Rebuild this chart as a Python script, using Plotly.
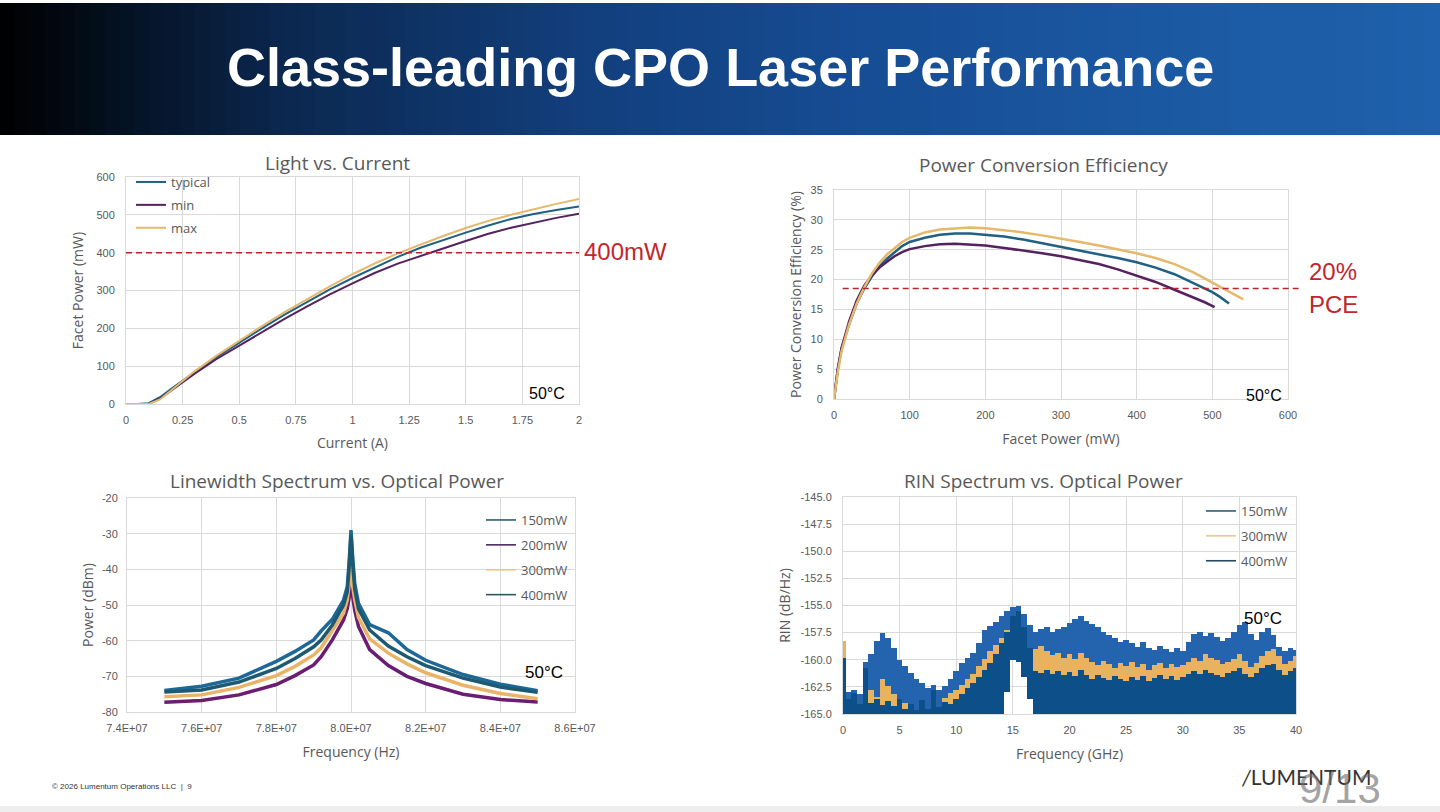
import plotly.graph_objects as go

W, H = 1440, 812

# ---------------- data ----------------
# Light vs. Current (50 C)
lc_current = [0, 0.05, 0.1, 0.15, 0.2, 0.25, 0.3, 0.4, 0.5, 0.6, 0.7, 0.8, 0.9, 1.0,
              1.1, 1.2, 1.3, 1.4, 1.5, 1.6, 1.7, 1.8, 1.9, 2.0]
lc_typical = [0, 0, 2, 18, 40, 62, 83, 124, 163, 200, 236, 270, 303, 333,
              362, 389, 413, 434, 453, 472, 489, 502, 513, 522]
lc_min = [0, 0, 0, 14, 36, 58, 79, 119, 155, 190, 225, 258, 290, 319,
          347, 371, 390, 411, 431, 450, 466, 480, 492, 503]
lc_max = [0, 0, 0, 12, 37, 62, 85, 128, 168, 206, 243, 278, 311, 343,
          372, 398, 422, 444, 465, 484, 500, 515, 529, 542]
lc_target = 400

# Power conversion efficiency
pce_typ_p = [0, 5, 10, 20, 30, 40, 50, 60, 70, 80, 90, 100, 120, 140, 160, 180, 200,
             225, 250, 275, 300, 325, 350, 375, 400, 425, 450, 475, 500, 510, 522]
pce_typ = [0, 5, 8.5, 12.5, 16, 18.5, 20.5, 22.2, 23.5, 24.6, 25.6, 26.3, 27.0, 27.5, 27.7, 27.7, 27.5,
           27.2, 26.7, 26.1, 25.5, 24.9, 24.3, 23.6, 22.9, 22.0, 20.9, 19.4, 17.9, 17.1, 16.0]
pce_min_p = [0, 5, 10, 20, 30, 40, 50, 60, 70, 80, 90, 100, 120, 140, 160, 180, 200,
             225, 250, 275, 300, 325, 350, 375, 400, 425, 450, 475, 490, 503]
pce_min = [0, 5, 8.5, 13, 16.5, 19, 20.7, 22, 23, 23.9, 24.6, 25.1, 25.6, 25.9, 26.0, 25.9, 25.7,
           25.3, 24.9, 24.4, 23.9, 23.3, 22.6, 21.7, 20.6, 19.6, 18.3, 17.0, 16.2, 15.4]
pce_max_p = [0, 5, 10, 20, 30, 40, 50, 60, 70, 80, 90, 100, 120, 140, 160, 180, 200,
             225, 250, 275, 300, 325, 350, 375, 400, 425, 450, 475, 500, 520, 541]
pce_max = [0, 4.5, 8, 12.5, 16, 18.7, 21, 22.8, 24.2, 25.3, 26.3, 27.0, 27.9, 28.4, 28.6, 28.7, 28.6,
           28.3, 27.9, 27.4, 26.9, 26.3, 25.7, 25.1, 24.4, 23.6, 22.6, 21.2, 19.5, 18.2, 16.7]
pce_target = 18.5
pce_target_span = [11.5, 614]  # mW, line runs past the axis end

# Linewidth spectrum
lw_freq = [7.5e7, 7.6e7, 7.7e7, 7.8e7, 7.85e7, 7.9e7, 7.92e7, 7.95e7, 7.98e7, 7.99e7, 7.995e7, 8.0e7,
           8.005e7, 8.01e7, 8.02e7, 8.05e7, 8.1e7, 8.15e7, 8.2e7, 8.3e7, 8.4e7, 8.5e7]
lw_150 = [-74.0, -72.8, -70.5, -65.8, -63.0, -59.8, -57.3, -54.0, -48.6, -44.9, -38.0, -29.0,
          -37.5, -44.0, -49.5, -55.5, -57.8, -62.5, -65.5, -69.5, -72.2, -74.0]
lw_200 = [-77.3, -76.8, -75.2, -72.3, -69.8, -66.8, -64.5, -59.8, -54.2, -51.0, -48.0, -43.0,
          -48.0, -51.5, -56.0, -62.5, -67.0, -70.0, -72.0, -75.0, -76.5, -77.2]
lw_300 = [-75.7, -75.2, -73.1, -69.8, -67.2, -64.0, -62.0, -57.0, -52.3, -48.6, -45.0, -40.0,
          -45.0, -48.5, -53.5, -59.5, -63.5, -66.5, -69.0, -72.5, -74.8, -76.3]
lw_400 = [-74.4, -73.8, -71.6, -67.8, -65.0, -61.7, -59.8, -55.6, -50.0, -46.3, -39.5, -30.5,
          -39.0, -45.5, -51.0, -57.0, -61.5, -64.5, -67.0, -70.5, -73.0, -74.5]
lw_xticks = [7.4e7, 7.6e7, 7.8e7, 8.0e7, 8.2e7, 8.4e7, 8.6e7]
lw_xticktext = ['7.4E+07', '7.6E+07', '7.8E+07', '8.0E+07', '8.2E+07', '8.4E+07', '8.6E+07']
lw_yticks = [-80, -70, -60, -50, -40, -30, -20]
lw_yticktext = ['-80', '-70', '-60', '-50', '-40', '-30', '-20']

# RIN spectrum, upper envelope every 0.5 GHz (0..40 GHz)
rin_freq = [i * 0.5 for i in range(81)]
rin_150 = [-162.5, -163.0, -162.8, -163.2, -160.2, -159.5, -158.3, -157.5, -158.0, -158.9,
           -160.0, -160.6, -161.2, -161.8, -162.1, -162.6, -162.3, -162.8, -162.4, -161.8,
           -161.0, -160.3, -159.8, -159.4, -158.5, -157.3, -156.9, -156.5, -156.0, -155.5,
           -155.1, -155.0, -155.8, -156.8, -157.4, -157.2, -157.0, -157.4, -157.2, -157.0,
           -156.6, -156.2, -156.0, -156.4, -156.7, -157.0, -157.4, -157.7, -158.0, -158.4,
           -158.2, -158.5, -158.8, -158.4, -158.9, -159.1, -158.7, -159.0, -159.3, -158.9,
           -159.2, -158.4, -157.6, -157.4, -157.8, -157.5, -157.9, -158.3, -158.0, -157.4,
           -156.8, -156.5, -157.6, -158.2, -157.4, -157.1, -157.7, -158.8, -159.2, -158.9,
           -159.1]
rin_300 = [-158.3, -163.6, -164.1, -164.3, -162.2, -162.8, -163.4, -161.8, -162.4, -163.2,
           -163.7, -164.0, -164.3, -164.6, -164.4, -164.8, -164.6, -164.8, -163.5, -163.1,
           -162.8, -162.3, -161.8, -161.3, -160.6, -159.9, -159.2, -158.6, -158.0, -157.3,
           -156.9, -157.4, -158.4, -159.3, -159.0, -158.7, -159.2, -159.6, -159.4, -159.8,
           -159.5, -159.9, -159.4, -159.8, -160.2, -160.5, -160.1, -160.4, -160.8, -160.3,
           -160.6, -160.2, -160.7, -160.4, -160.9, -160.5, -160.3, -160.8, -160.4, -160.7,
           -160.5, -160.2, -159.8, -160.1, -159.5, -159.8, -160.0, -160.4, -160.2, -159.9,
           -159.5, -160.1, -160.7, -160.3, -159.7, -159.2, -159.0, -159.7, -160.4, -160.1,
           -159.7]
rin_400 = [-159.8, -163.6, -163.1, -164.1, -160.8, -164.0, -163.6, -164.2, -163.8, -164.3,
           -163.6, -164.5, -164.1, -164.6, -163.7, -164.5, -162.8, -164.4, -163.9, -164.1,
           -163.6, -163.2, -162.6, -162.1, -161.6, -160.9, -160.3, -159.5, -158.5, -157.4,
           -156.0, -155.5, -157.0, -158.9, -161.0, -161.2, -160.9, -161.3, -161.0, -161.4,
           -161.1, -161.5, -160.9, -161.4, -161.8, -161.4, -161.7, -161.9, -161.5, -161.8,
           -162.0, -161.6, -161.9, -161.5, -162.0, -161.7, -161.4, -161.8, -161.5, -161.9,
           -161.6, -161.3, -161.0, -161.3, -160.9, -161.2, -161.4, -161.6, -161.2, -161.0,
           -160.8, -161.3, -161.6, -161.2, -160.8, -160.5, -160.4, -160.9, -161.4, -161.0,
           -160.8]
# lower edge of the traces (open gap under the 15 GHz peak)
rin_floor = [-165.0] * 29 + [-163.0, -160.0, -160.2, -161.6, -163.6] + [-165.0] * 47
rin_yticks = [-165, -162.5, -160, -157.5, -155, -152.5, -150, -147.5, -145]
rin_yticktext = ['-165.0', '-162.5', '-160.0', '-157.5', '-155.0', '-152.5', '-150.0', '-147.5', '-145.0']

# ---------------- styling ----------------
GRID = '#d9d9d9'
GREY = '#595959'
RED = '#c0272d'
TICK_FONT = dict(family='Liberation Sans, Arial', size=11, color=GREY)
AX_TITLE_FONT = dict(family='Open Sans, Arial', size=14, color=GREY)
CHART_TITLE_FONT = dict(family='Open Sans, Arial', size=19, color=GREY)
LEG_FONT = dict(family='Open Sans, Arial', size=13, color=GREY)

C_TYP, C_MIN, C_MAX = '#1f6083', '#55215f', '#e6b86c'


def px(x):
    return x / W


def py(y):
    return 1 - y / H


def axis(domain, **kw):
    d = dict(domain=domain, showgrid=True, gridcolor=GRID, gridwidth=1, zeroline=False,
             showline=True, linecolor=GRID, linewidth=1, mirror=True, ticks='',
             tickfont=TICK_FONT, fixedrange=True, automargin=False)
    d.update(kw)
    return d


fig = go.Figure()

# Light vs. Current
for name, vals, col in [('typical', lc_typical, C_TYP), ('min', lc_min, C_MIN), ('max', lc_max, C_MAX)]:
    fig.add_trace(go.Scatter(x=lc_current, y=vals, mode='lines', name=name,
                             line=dict(color=col, width=2), legendgroup=name,
                             xaxis='x', yaxis='y', legend='legend'))

# Power conversion efficiency
for xs, ys, col in [(pce_typ_p, pce_typ, C_TYP), (pce_min_p, pce_min, C_MIN), (pce_max_p, pce_max, C_MAX)]:
    fig.add_trace(go.Scatter(x=xs, y=ys, mode='lines', line=dict(color=col, width=2.5),
                             showlegend=False, xaxis='x2', yaxis='y2'))

# Linewidth spectrum
lw_series = [('150mW', lw_150, '#1e6898', '#2b5d7a'),
             ('200mW', lw_200, '#6a1d72', '#4a2a5c'),
             ('300mW', lw_300, '#eab468', '#e7c58c'),
             ('400mW', lw_400, '#1d5a72', '#2a5867')]
for name, vals, col, _ in lw_series:
    fig.add_trace(go.Scatter(x=lw_freq, y=vals, mode='lines', line=dict(color=col, width=3.5),
                             showlegend=False, xaxis='x3', yaxis='y3'))
for name, _, _, lcol in lw_series:
    fig.add_trace(go.Scatter(x=[None], y=[None], mode='lines', name=name, legendgroup='lw' + name,
                             line=dict(color=lcol, width=1.6), xaxis='x3', yaxis='y3', legend='legend2'))

# RIN spectrum
rin_series = [('150mW', rin_150, '#2464ae', '#2b5a78'),
              ('300mW', rin_300, '#e9b260', '#e6c98f'),
              ('400mW', rin_400, '#0d4f89', '#254a5e')]
for name, top, col, _ in rin_series:
    fig.add_trace(go.Bar(x=rin_freq, base=rin_floor, y=[t - f for t, f in zip(top, rin_floor)],
                         width=0.5, marker=dict(color=col, line=dict(width=0)),
                         showlegend=False, xaxis='x4', yaxis='y4'))
for name, _, _, lcol in rin_series:
    fig.add_trace(go.Scatter(x=[None], y=[None], mode='lines', name=name, legendgroup='rin' + name,
                             line=dict(color=lcol, width=1.6), xaxis='x4', yaxis='y4', legend='legend3'))

# ---------------- shapes ----------------
shapes = []
stops = [(0.0, (0, 0, 0)), (0.08, (4, 16, 32)), (0.2, (11, 40, 80)), (0.4, (18, 62, 124)),
         (0.6, (22, 77, 148)), (0.8, (27, 88, 162)), (1.0, (31, 97, 172))]
n = 96
for i in range(n):
    t = (i + 0.5) / n
    for (a, ca), (b, cb) in zip(stops[:-1], stops[1:]):
        if a <= t <= b:
            f = (t - a) / (b - a)
            c = tuple(int(round(ca[k] + (cb[k] - ca[k]) * f)) for k in range(3))
            break
    shapes.append(dict(type='rect', xref='paper', yref='paper', x0=i / n, x1=(i + 1) / n + 0.002,
                       y0=py(135), y1=py(3), fillcolor='rgb(%d,%d,%d)' % c, line=dict(width=0),
                       layer='below'))
shapes.append(dict(type='rect', xref='paper', yref='paper', x0=0, x1=1, y0=0, y1=py(806),
                   fillcolor='#eeeeee', line=dict(width=0), layer='below'))
shapes.append(dict(type='line', xref='x', yref='y', x0=lc_current[0], x1=lc_current[-1],
                   y0=lc_target, y1=lc_target, line=dict(color='#b3262b', width=1.5, dash='6px,4px')))
shapes.append(dict(type='line', xref='x2 domain', yref='y2',
                   x0=pce_target_span[0] / 600, x1=pce_target_span[1] / 600,
                   y0=pce_target, y1=pce_target, line=dict(color='#b3262b', width=1.5, dash='6px,4px')))

# ---------------- annotations ----------------
ann = []


def text(x, y, s, font, xanchor='center', **kw):
    ann.append(dict(x=px(x), y=py(y), xref='paper', yref='paper', text=s, showarrow=False,
                    xanchor=xanchor, yanchor='middle', font=font, **kw))


text(720, 67, '<b>Class-leading CPO Laser Performance</b>',
     dict(family='Liberation Sans, Arial', size=54, color='white'))
text(337, 163, 'Light vs. Current', CHART_TITLE_FONT)
text(1043, 165, 'Power Conversion Efficiency', CHART_TITLE_FONT)
text(337, 481, 'Linewidth Spectrum vs. Optical Power', CHART_TITLE_FONT)
text(1043, 481, 'RIN Spectrum vs. Optical Power', CHART_TITLE_FONT)

red_font = dict(family='Liberation Sans, Arial', size=24, color=RED)
text(582, 252, '400mW', red_font, xanchor='left')
text(1307, 271, '20%', red_font, xanchor='left')
text(1307, 304, 'PCE', red_font, xanchor='left')

temp_font = dict(family='Liberation Sans, Arial', size=16, color='black')
text(547, 393, '50°C', temp_font)
text(1264, 396, '50°C', temp_font)
text(544, 672, '50°C', dict(temp_font, size=17))
text(1263, 618, '50°C', dict(temp_font, size=17))

text(50, 786, '© 2026 Lumentum Operations LLC  |  9',
     dict(family='Liberation Sans, Arial', size=8, color='#333333'), xanchor='left')
text(1306, 776, '<i>/</i>LUMENTUM', dict(family='Lato, Arial', size=21, color='#333333'))
text(1340, 788, '9/13', dict(family='Liberation Sans, Arial', size=42, color='rgba(110,110,110,0.65)'))

legend_base = dict(xanchor='left', yanchor='top', bgcolor='rgba(0,0,0,0)', borderwidth=0,
                   itemwidth=30, itemclick=False, itemdoubleclick=False, font=LEG_FONT)

fig.update_layout(
    width=W, height=H, margin=dict(l=0, r=0, t=0, b=0, autoexpand=False),
    paper_bgcolor='white', plot_bgcolor='white',
    barmode='overlay', bargap=0,
    xaxis=axis([px(126), px(579)], anchor='y', range=[0, 2], dtick=0.25, ticklabelstandoff=6,
               title=dict(text='Current (A)', font=AX_TITLE_FONT, standoff=12)),
    yaxis=axis([py(404), py(177)], anchor='x', range=[0, 600], dtick=100, ticklabelstandoff=8,
               title=dict(text='Facet Power (mW)', font=AX_TITLE_FONT, standoff=9)),
    xaxis2=axis([px(834), px(1288)], anchor='y2', range=[0, 600], dtick=100, ticklabelstandoff=6,
                title=dict(text='Facet Power (mW)', font=AX_TITLE_FONT, standoff=13)),
    yaxis2=axis([py(399), py(190)], anchor='x2', range=[0, 35], dtick=5, ticklabelstandoff=8,
                title=dict(text='Power Conversion Efficiency (%)', font=AX_TITLE_FONT, standoff=5)),
    xaxis3=axis([px(127), px(575)], anchor='y3', range=[7.4e7, 8.6e7], tickvals=lw_xticks,
                ticktext=lw_xticktext, ticklabelstandoff=6,
                title=dict(text='Frequency (Hz)', font=AX_TITLE_FONT, standoff=13)),
    yaxis3=axis([py(712), py(498)], anchor='x3', range=[-80, -20], tickvals=lw_yticks,
                ticktext=lw_yticktext, ticklabelstandoff=6,
                title=dict(text='Power (dBm)', font=AX_TITLE_FONT, standoff=4)),
    xaxis4=axis([px(843), px(1296)], anchor='y4', range=[0, 40], dtick=5, ticklabelstandoff=6,
                title=dict(text='Frequency (GHz)', font=AX_TITLE_FONT, standoff=13)),
    yaxis4=axis([py(714), py(497)], anchor='x4', range=[-165, -145], tickvals=rin_yticks,
                ticktext=rin_yticktext, ticklabelstandoff=8,
                title=dict(text='RIN (dB/Hz)', font=AX_TITLE_FONT, standoff=6)),
    legend=dict(legend_base, x=px(131), y=py(167), tracegroupgap=3),
    legend2=dict(legend_base, x=px(481), y=py(505), tracegroupgap=5),
    legend3=dict(legend_base, x=px(1201), y=py(496), tracegroupgap=5),
    shapes=shapes,
    annotations=ann,
)

# the slide fills the whole window: drop the page's default body margin
fig.write_html('out.html', config={'displayModeBar': False},
               post_script="document.body.style.margin='0';document.body.style.overflow='hidden';")
